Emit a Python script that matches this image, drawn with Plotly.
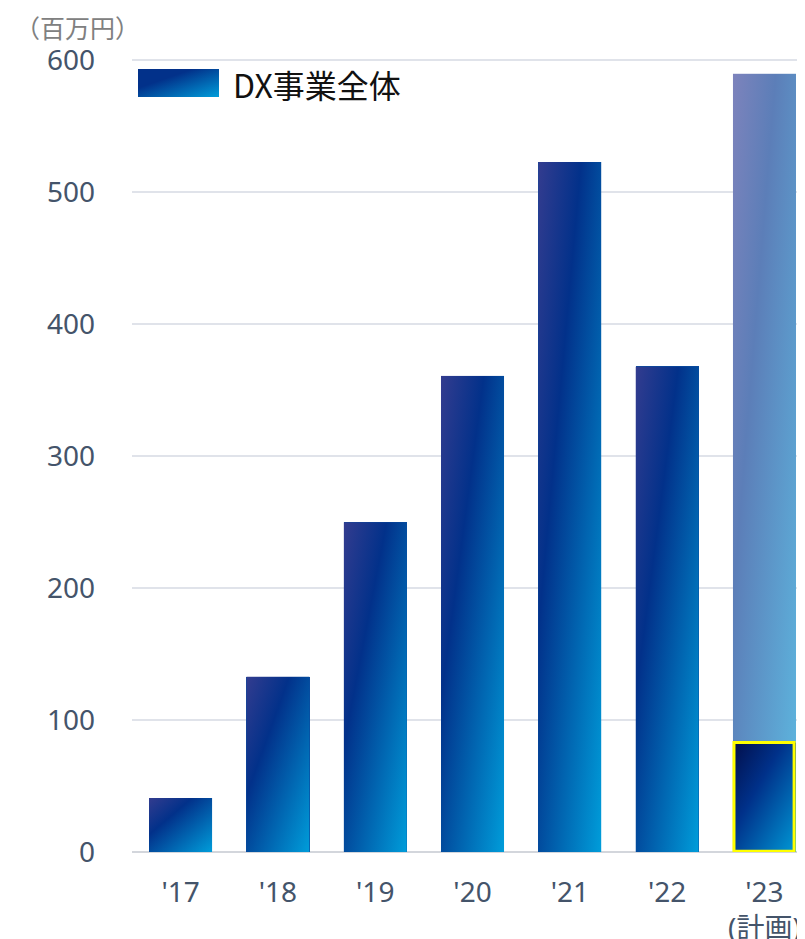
import base64
import plotly.graph_objects as go

# ---------------- data ----------------
years = ["'17", "'18", "'19", "'20", "'21", "'22", "'23<br>(計画)"]
dx_total = [41, 133, 250, 361, 523, 368, 590]       # DX事業全体 (百万円)
plan_flags = [False, False, False, False, False, False, True]
actual_23 = [None, None, None, None, None, None, 83]  # '23 実績部分
y_ticks = [0, 100, 200, 300, 400, 500, 600]

# ---------------- style ----------------
OFF = 8                      # page body margin of the html page
W, H = 805 - OFF, 939 - OFF
PL, PR, PT, PB = 132, 805, 34, 852   # wanted plot area on screen
M_L, M_R, M_T = PL - OFF, 0, PT - OFF
M_B = H - (PB - OFF)
BAR_W = 0.65
TICK_COLOR = "#44546a"
GRID_COLOR = "#e0e3ea"

MAIN_STOPS = [(0, "#333c8f"), (0.34, "#02318a"), (1, "#009dda")]
PLAN_STOPS = [(0, "#7d83bc"), (0.34, "#5c7eb8"), (1, "#5db8e0")]
ACT_STOPS = [(0, "#020e4a"), (0.40, "#00318a"), (1, "#0099d6")]


def grad_src(stops):
    st = "".join(f'<stop offset="{o}" stop-color="{c}"/>' for o, c in stops)
    svg = ('<svg xmlns="http://www.w3.org/2000/svg" width="100" height="100" '
           'viewBox="0 0 100 100" preserveAspectRatio="none">'
           '<defs><linearGradient id="g" x1="0" y1="0" x2="1" y2="1">'
           f'{st}</linearGradient></defs>'
           '<rect x="0" y="0" width="100" height="100" fill="url(#g)"/></svg>')
    return "data:image/svg+xml;base64," + base64.b64encode(svg.encode()).decode()


xs = list(range(len(years)))

fig = go.Figure()
fig.add_trace(go.Bar(
    x=xs, y=dx_total, width=BAR_W, name="DX事業全体",
    marker=dict(color=["#6a95c8" if p else "#0a4a9e" for p in plan_flags], line=dict(width=0)),
    showlegend=False,
))
fig.add_trace(go.Bar(
    x=xs, y=actual_23, width=BAR_W, name="実績",
    marker=dict(color="#00408f", line=dict(width=0)),
    showlegend=False,
))

images = []
shapes = []
# gradient skins placed on each bar through the data axes
for x, v, p in zip(xs, dx_total, plan_flags):
    images.append(dict(
        source=grad_src(PLAN_STOPS if p else MAIN_STOPS),
        xref="x", yref="y", x=x - BAR_W / 2, y=v, sizex=BAR_W, sizey=v,
        xanchor="left", yanchor="top", sizing="stretch", layer="above",
    ))
for x, v in zip(xs, actual_23):
    if v is None:
        continue
    images.append(dict(
        source=grad_src(ACT_STOPS),
        xref="x", yref="y", x=x - BAR_W / 2, y=v, sizex=BAR_W, sizey=v,
        xanchor="left", yanchor="top", sizing="stretch", layer="above",
    ))
    shapes.append(dict(
        type="rect", xref="x", yref="y",
        x0=x - BAR_W / 2 + 0.012, x1=x + BAR_W / 2 - 0.02, y0=0.6, y1=v,
        line=dict(color="#ffff00", width=3), fillcolor="rgba(0,0,0,0)", layer="above",
    ))

PW = PR - PL
PH = PB - PT


def px_x(px):
    return (px - PL) / PW


def px_y(py):
    return (PB - py) / PH


# legend swatch
images.append(dict(
    source=grad_src(MAIN_STOPS[1:]),
    xref="paper", yref="paper", x=px_x(138), y=px_y(69), sizex=81 / PW, sizey=28 / PH,
    xanchor="left", yanchor="top", sizing="stretch", layer="above",
))

annotations = [
    dict(text="DX事業全体", xref="paper", yref="paper", x=px_x(231), y=px_y(84),
         xanchor="left", yanchor="middle", showarrow=False,
         font=dict(family="Noto Sans CJK JP", size=32, color="#111111")),
    dict(text="（百万円）", xref="paper", yref="paper", x=px_x(77), y=px_y(8),
         xanchor="center", yanchor="top", showarrow=False, borderpad=0,
         font=dict(family="Noto Sans CJK JP", size=25, color="#808080")),
]

fig.update_layout(
    width=W, height=H,
    margin=dict(l=M_L, r=M_R, t=M_T, b=M_B, pad=0),
    paper_bgcolor="white", plot_bgcolor="white",
    barmode="overlay", bargap=0,
    showlegend=False,
    images=images, shapes=shapes, annotations=annotations,
    xaxis=dict(
        range=[-0.5, 6.417], tickmode="array", tickvals=xs, ticktext=years,
        showgrid=False, zeroline=False, showline=False, ticks="",
        tickfont=dict(family="Noto Sans, Noto Sans CJK JP", size=28, color=TICK_COLOR),
        ticklabelstandoff=21, fixedrange=True, automargin=False,
    ),
    yaxis=dict(
        range=[0, 620], tickmode="array", tickvals=y_ticks,
        showgrid=True, gridcolor=GRID_COLOR, gridwidth=2,
        zeroline=True, zerolinecolor="#d3d6dc", zerolinewidth=2,
        showline=False, ticks="",
        tickfont=dict(family="Noto Sans", size=28, color=TICK_COLOR),
        ticklabelstandoff=36, fixedrange=True, automargin=False,
    ),
)

fig.write_html("out.html")
